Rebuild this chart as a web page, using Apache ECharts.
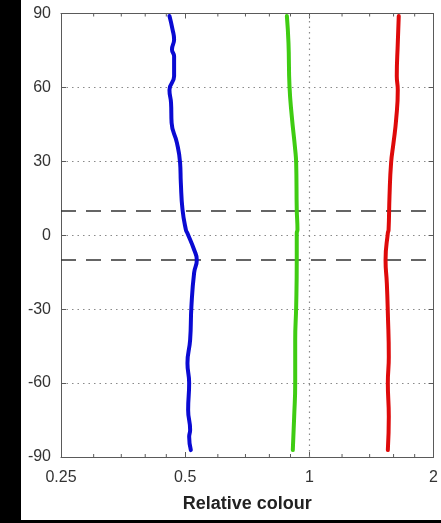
<!DOCTYPE html>
<html>
<head>
<meta charset="utf-8">
<script src="https://cdn.jsdelivr.net/npm/echarts@6/dist/echarts.min.js"></script>
<style>
html,body{margin:0;padding:0;background:#000;width:441px;height:523px;overflow:hidden;}
#chart{position:absolute;left:21px;top:0;width:420px;height:520px;background:#fff;}
</style>
</head>
<body>
<div id="chart"></div>
<script>
// Latitude / relative colour samples
const blueLat = [89, 83.5, 79.4, 75.4, 72.6, 64.5, 59, 53.8, 45.6, 37.5, 29.4, 21.3, 10.4, 2.2, 0.9, -5.9, -10, -15.2, -28.9, -42.5, -51.9, -60, -70.9, -79, -81.8, -87.2];
const blueVal = [0.458, 0.466, 0.470, 0.4645, 0.470, 0.470, 0.458, 0.462, 0.4635, 0.4775, 0.486, 0.488, 0.4926, 0.502, 0.506, 0.5256, 0.5335, 0.5256, 0.5177, 0.514, 0.5064, 0.5112, 0.5083, 0.514, 0.5112, 0.516];

const greenLat = [89, 78, 60.5, 48.3, 34.7, 29.3, 10.4, 2.2, 0.9, -10, -28.9, -42.5, -60, -73.6, -87.2];
const greenVal = [0.882, 0.890, 0.895, 0.9065, 0.924, 0.929, 0.932, 0.9357, 0.932, 0.932, 0.929, 0.924, 0.924, 0.9187, 0.9117];

const redLat = [89, 78, 64.5, 59, 46.9, 37.5, 29.4, 15.8, 2.2, 0.9, -10, -19.5, -31.6, -49.3, -60, -73.6, -87.2];
const redVal = [1.647, 1.638, 1.629, 1.638, 1.623, 1.5995, 1.578, 1.564, 1.556, 1.5496, 1.530, 1.541, 1.5496, 1.558, 1.5496, 1.558, 1.5496];

const xTicks = [0.25, 0.5, 1, 2];
const xMinorTicks = [0.3, 0.35, 0.4, 0.45, 0.6, 0.7, 0.8, 0.9, 1.2, 1.4, 1.6, 1.8];
const yTicks = [-90, -60, -30, 0, 30, 60, 90];
const bandLats = [10, -10];
const refColour = 1;

const pairs = (v, l) => v.map((x, i) => [x, l[i]]);
const font = 'Liberation Sans, Arial, sans-serif';
const axisGrey = '#5a5a5a';

const chart = echarts.init(document.getElementById('chart'), null, {renderer: 'canvas'});

const xBase = {
  type: 'log', logBase: 2, min: xTicks[0], max: xTicks[xTicks.length - 1],
  axisLine: {show: true, onZero: false, lineStyle: {color: axisGrey, width: 1}},
  axisTick: {show: true, inside: true, length: 5, lineStyle: {color: axisGrey}},
  splitLine: {show: false},
  minorTick: {show: false}
};
const yBase = {
  type: 'value', min: yTicks[0], max: yTicks[yTicks.length - 1], interval: 30,
  axisLine: {show: true, onZero: false, lineStyle: {color: axisGrey, width: 1}},
  axisTick: {show: true, inside: true, length: 5, lineStyle: {color: axisGrey}}
};

const lineSeries = (name, data, color) => ({
  name, type: 'line', data, smooth: 0.5, symbol: 'none',
  lineStyle: {color, width: 4, cap: 'round', join: 'round'},
  z: 5
});

chart.setOption({
  animation: false,
  backgroundColor: '#fff',
  grid: {left: 40, right: 6, top: 13.5, bottom: 63},
  xAxis: [
    Object.assign({}, xBase, {
      position: 'bottom',
      axisLabel: {show: true, margin: 13, fontSize: 16, color: '#333', fontFamily: font,
        formatter: v => String(+v.toFixed(2))},
      name: 'Relative colour', nameLocation: 'middle', nameGap: 38,
      nameTextStyle: {fontSize: 18, fontWeight: 'bold', color: '#222', fontFamily: font}
    }),
    Object.assign({}, xBase, {position: 'top', axisLabel: {show: false}})
  ],
  yAxis: [
    Object.assign({}, yBase, {
      position: 'left',
      axisLabel: {show: true, margin: 10, fontSize: 16, color: '#333', fontFamily: font},
      splitLine: {show: true, lineStyle: {type: [1.5, 4], color: '#8a8a8a', width: 1.2}}
    }),
    Object.assign({}, yBase, {position: 'right', axisLabel: {show: false}, splitLine: {show: false}})
  ],
  series: [
    {
      type: 'custom', name: 'minor', data: xMinorTicks.map(v => [v]),
      renderItem: (params, api) => {
        const v = api.value(0);
        const b = api.coord([v, yTicks[0]]);
        const t = api.coord([v, yTicks[yTicks.length - 1]]);
        const st = {stroke: axisGrey, lineWidth: 1};
        return {type: 'group', children: [
          {type: 'line', shape: {x1: b[0], y1: b[1], x2: b[0], y2: b[1] - 3}, style: st},
          {type: 'line', shape: {x1: t[0], y1: t[1], x2: t[0], y2: t[1] + 3}, style: st}
        ]};
      },
      silent: true, z: 3
    },
    {
      type: 'line', name: 'refs', data: [], symbol: 'none',
      markLine: {
        silent: true, symbol: 'none', label: {show: false},
        data: [
          {xAxis: refColour, lineStyle: {type: [1.5, 4], color: '#8a8a8a', width: 1.2}},
          ...bandLats.map(l => ({yAxis: l, lineStyle: {type: [15, 10], color: '#333', width: 1.5}}))
        ]
      },
      z: 2
    },
    lineSeries('Blue', pairs(blueVal, blueLat), '#0a0ad2'),
    lineSeries('Green', pairs(greenVal, greenLat), '#3fcc12'),
    lineSeries('Red', pairs(redVal, redLat), '#de0a0a')
  ]
});
</script>
</body>
</html>
